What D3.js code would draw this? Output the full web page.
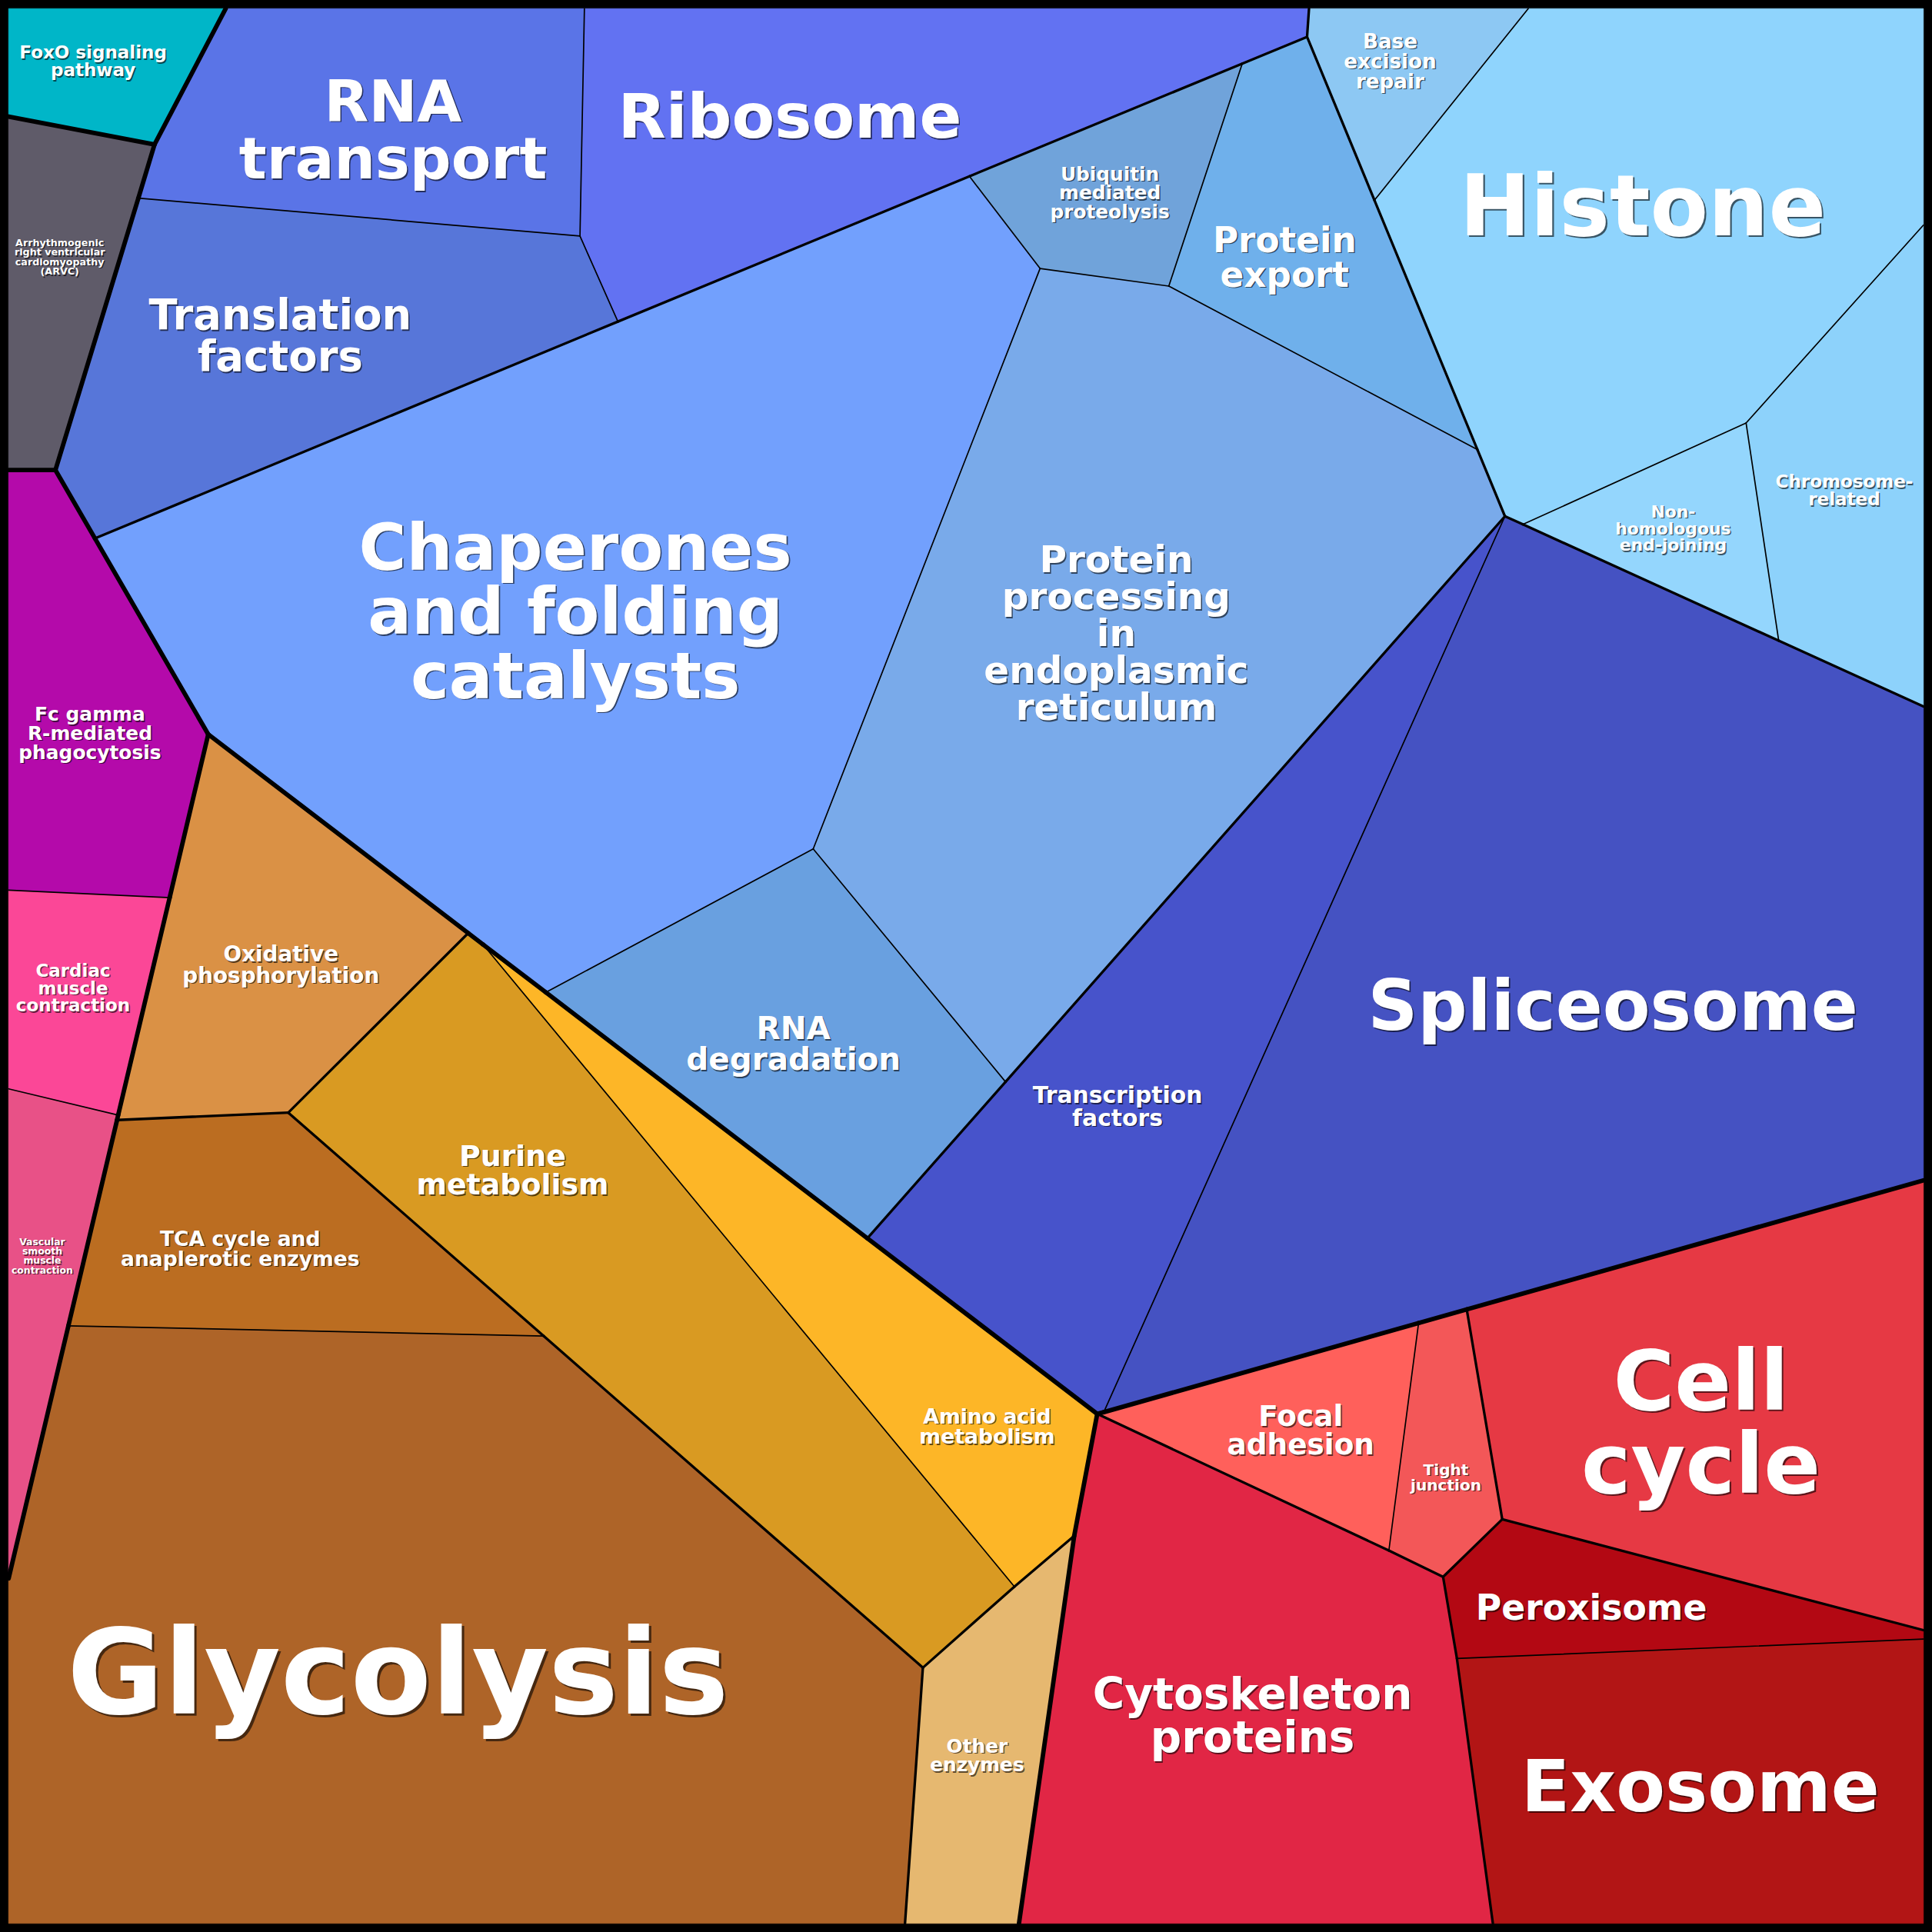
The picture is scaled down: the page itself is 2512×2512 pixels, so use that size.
<!DOCTYPE html>
<html>
<head>
<meta charset="utf-8">
<script src="https://cdn.jsdelivr.net/npm/d3@7"></script>
<style>html,body{margin:0;padding:0;background:#000}</style>
</head>
<body>
<svg id="chart" width="2512" height="2512"></svg>
<script>
// ---------------- DATA ----------------
const pathways = [
  "FoxO signaling pathway","Arrhythmogenic right ventricular cardiomyopathy (ARVC)",
  "RNA transport","Ribosome","Translation factors",
  "Chaperones and folding catalysts","Ubiquitin mediated proteolysis","Protein export",
  "Protein processing in endoplasmic reticulum","RNA degradation",
  "Base excision repair","Histone","Non-homologous end-joining","Chromosome-related",
  "Spliceosome","Transcription factors",
  "Fc gamma R-mediated phagocytosis","Cardiac muscle contraction","Vascular smooth muscle contraction",
  "Oxidative phosphorylation","TCA cycle and anaplerotic enzymes","Glycolysis",
  "Purine metabolism","Amino acid metabolism","Other enzymes",
  "Focal adhesion","Tight junction","Cell cycle","Peroxisome","Exosome","Cytoskeleton proteins"
];
const labelLines = [
  "FoxO signaling|pathway","Arrhythmogenic|right ventricular|cardiomyopathy|(ARVC)",
  "RNA|transport","Ribosome","Translation|factors",
  "Chaperones|and folding|catalysts","Ubiquitin|mediated|proteolysis","Protein|export",
  "Protein|processing|in|endoplasmic|reticulum","RNA|degradation",
  "Base|excision|repair","Histone","Non-|homologous|end-joining","Chromosome-|related",
  "Spliceosome","Transcription|factors",
  "Fc gamma|R-mediated|phagocytosis","Cardiac|muscle|contraction","Vascular|smooth|muscle|contraction",
  "Oxidative|phosphorylation","TCA cycle and|anaplerotic enzymes","Glycolysis",
  "Purine|metabolism","Amino acid|metabolism","Other|enzymes",
  "Focal|adhesion","Tight|junction","Cell|cycle","Peroxisome","Exosome","Cytoskeleton|proteins"
];
// top-level category of each pathway
const group = [
  "Environmental","Disease",
  "Genetic","Genetic","Genetic",
  "Genetic","Genetic","Genetic","Genetic","Genetic",
  "Genetic","Genetic","Genetic","Genetic",
  "Genetic","Genetic",
  "Organismal","Organismal","Organismal",
  "Metabolism","Metabolism","Metabolism","Metabolism","Metabolism","Metabolism",
  "Cellular","Cellular","Cellular","Cellular","Cellular","Cellular"
];
// second-level category of each pathway
const subgroup = [
  "Signal transduction","Cardiovascular disease",
  "Translation","Translation","Translation",
  "Folding, sorting and degradation","Folding, sorting and degradation","Folding, sorting and degradation",
  "Folding, sorting and degradation","Folding, sorting and degradation",
  "Replication and repair","Replication and repair","Replication and repair","Replication and repair",
  "Transcription","Transcription",
  "Immune and circulatory","Immune and circulatory","Immune and circulatory",
  "Energy metabolism","Carbohydrate metabolism","Carbohydrate metabolism",
  "Nucleotide and amino acid","Nucleotide and amino acid","Other metabolism",
  "Cellular community","Cellular community","Cell growth","Transport and catabolism","Transport and catabolism","Cell motility"
];

// ---------------- LAYOUT (Voronoi treemap geometry, layout units 0..1568) ----------------
const vertices = {
  T0:[7,7], T1:[183.2,7], T2:[474.3,7], T3:[1062.4,7], T4:[1240.3,7], T5:[1561,7],
  R1:[1561,182.7], R2:[1561,573.4], R3:[1561,958], R4:[1561,1323], R5:[1561,1330.3], R6:[1561,1561],
  B1:[1211.6,1561], B2:[827,1561], B3:[734.5,1561], B0:[7,1561],
  L1:[7,94.6], L2:[7,381.5], L3:[7,722.5], L4:[7,883.7], L5:[7,1281],
  a:[125.4,117.3], b:[112.3,160.8], c:[45,381.5], d:[470.7,191.6], e:[501.5,261], f:[77.1,437],
  g:[169,596], h:[786.8,143.1], i:[1008.2,51.6], k:[1060.8,29.9], l:[844.1,217.9], m:[948.6,232.2],
  n:[1115.5,162.5], o:[1199,364.8], q:[1221.4,419], r:[1236,425.6], s:[1417.1,343.3], t:[1443.6,520],
  u:[660,689], v:[443,805.4], w:[816.1,878], x:[703.9,1005], J:[890.5,1147.5], y:[895.8,1146.1],
  z:[1151.3,1073.8], A:[1190.4,1062.7], FT:[1127.2,1258.4], TP:[1171.2,1279.8], TC:[1219.2,1233],
  PX:[1182.4,1346],
  C1:[380,757.3], C2:[392,766.5], C3:[234,903], C4:[95,909], C5:[55.5,1076], C6:[441.2,1084.3],
  C7:[749,1353.5], C8:[823.3,1287.7], C9:[871.8,1246.6], P1:[137.7,728.5], P2:[95.9,905]
};
const cellVertices = [
  "T0 T1 a L1", "L1 a b c L2",
  "T1 T2 d b a", "T2 T3 k i h e d", "b d e f c",
  "f e h l u v C2 C1 g", "h i m l", "i k n o m",
  "l m o q w u", "u w x v",
  "T3 T4 n k", "T4 T5 R1 s r q o n", "r s t", "s R1 R2 t",
  "q r t R2 R3 A z y", "q y J x w",
  "L2 c f g P1 L3", "L3 P1 P2 L4", "L4 P2 C4 C5 L5",
  "g C1 C3 C4 P2 P1", "C4 C3 C6 C5", "C5 C6 C7 B3 B0 L5",
  "C1 C2 C8 C7 C6 C3", "C2 v x J C9 C8", "C8 C9 B2 B3 C7",
  "J y z FT", "z A TC TP FT", "A R3 R4 TC", "TC R4 R5 PX TP", "PX R5 R6 B1", "J FT TP PX B1 B2 C9"
].map(s => s.split(" "));

// ---------------- STYLE ----------------
const colors = [
  "#00b6c8","#5f5b69",
  "#5a74e7","#6272f2","#5776d9",
  "#72a0fd","#70a3da","#6fb0eb","#79aaea","#69a0e0",
  "#8dc8f3","#8fd4fd","#94d6fd","#8dd2fb",
  "#4552c2","#4753cb",
  "#b40aaa","#fb4797","#e85187",
  "#da9145","#bb6d21","#ae6428","#d99a22","#fdb627","#e6b870",
  "#ff605b","#f35758","#e63944","#b30813","#b21515","#e12645"
];
// label anchor (layout units) and font size (px)
const labelX = [75.6,48.5, 319,641,227.4, 467,900.8,1042.6,906,644, 1128.2,1333.2,1357.9,1496.8, 1309,907,
  73,59.3,34.3, 228,194.9,323,416,801.1,793, 1055.7,1173.5,1380.5,1291.5,1380,1016.6];
const labelY = [49.8,208.6, 105.3,94,272.3, 496,156.3,208.7,514,847, 49.7,167.1,428.8,398.1, 816,898,
  595,801.8,1019.2, 783,1013.3,1357,949.5,1157.7,1424.5, 1160.7,1199,1154,1304.6,1450,1392.2];
const labelSize = [23,12.7, 75.2,81,54.4, 84.3,24.8,45.3,48.5,40.5, 26.2,110,21.9,23, 90,29.8,
  24.9,23,12.4, 27.8,26.6,153,37.9,26.7,24.8, 37.4,20.1,108.8,45.7,92.9,56.5];
const strokeByLevel = {1: 5.8, 2: 3.3, 3: 1.7};

// ---------------- DRAW ----------------
const W = 2512, grid = 1568;
const sx = d3.scaleLinear().domain([0, grid]).range([0, W]);
const sy = d3.scaleLinear().domain([0, grid]).range([0, W]);
const svg = d3.select("#chart");

svg.append("rect").attr("width", W).attr("height", W).attr("fill", "#000");

const pt = id => [sx(vertices[id][0]), sy(vertices[id][1])];
const line = d3.line();

svg.append("g").selectAll("path").data(cellVertices).join("path")
  .attr("d", ids => line(ids.map(pt)) + "Z")
  .attr("fill", (d, i) => colors[i])
  .attr("stroke", (d, i) => colors[i])
  .attr("stroke-width", 0.8);

// shared edges, width by hierarchy level of the two neighbouring cells
const edgeMap = new Map();
cellVertices.forEach((ids, ci) => {
  ids.forEach((id, j) => {
    const id2 = ids[(j + 1) % ids.length];
    const key = id < id2 ? id + "|" + id2 : id2 + "|" + id;
    if (!edgeMap.has(key)) edgeMap.set(key, {a: id, b: id2, cells: []});
    edgeMap.get(key).cells.push(ci);
  });
});
const edges = [...edgeMap.values()].filter(e => e.cells.length === 2).map(e => {
  const [c1, c2] = e.cells;
  e.level = group[c1] !== group[c2] ? 1 : (subgroup[c1] !== subgroup[c2] ? 2 : 3);
  return e;
}).sort((p, q) => q.level - p.level);

svg.append("g").selectAll("path").data(edges).join("path")
  .attr("d", e => line([pt(e.a), pt(e.b)]))
  .attr("stroke", "#000")
  .attr("stroke-width", e => strokeByLevel[e.level])
  .attr("stroke-linecap", "round")
  .attr("fill", "none");

// labels (dark offset copy underneath as the text shadow)
const lg = svg.append("g")
  .attr("font-family", "'DejaVu Sans', sans-serif")
  .attr("font-weight", "bold")
  .attr("text-anchor", "middle");

pathways.forEach((name, i) => {
  const lines = labelLines[i].split("|");
  const fs = labelSize[i];
  const lh = fs * 0.99;
  const cx = sx(labelX[i]), cy = sy(labelY[i]);
  const off = Math.max(1.5, fs * 0.02);
  [true, false].forEach(shadow => {
    const t = lg.append("text")
      .attr("font-size", fs)
      .attr("fill", shadow ? "rgba(0,0,0,0.6)" : "#fff")
      .attr("transform", `translate(${cx + (shadow ? off : 0)},${cy + (shadow ? off : 0)})`);
    lines.forEach((ln, j) => {
      t.append("tspan").attr("x", 0)
        .attr("y", (j - (lines.length - 1) / 2) * lh + 0.35 * fs)
        .text(ln);
    });
  });
});
</script>
</body>
</html>
